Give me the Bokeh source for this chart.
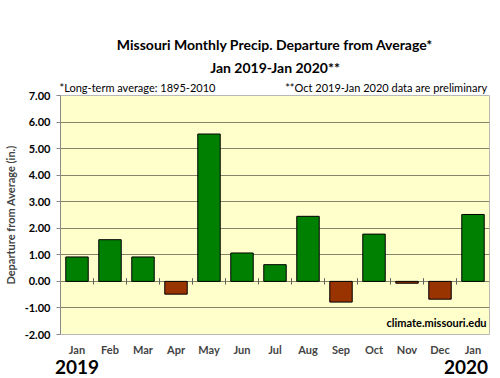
from bokeh.plotting import figure
from bokeh.models import (Range1d, FixedTicker, NumeralTickFormatter, ColumnDataSource,
                          LinearAxis, Title)
from bokeh.embed import file_html
from bokeh.resources import INLINE

months = ["Jan", "Feb", "Mar", "Apr", "May", "Jun", "Jul", "Aug", "Sep", "Oct", "Nov", "Dec", "Jan"]
values = [0.92, 1.57, 0.92, -0.48, 5.55, 1.07, 0.63, 2.45, -0.78, 1.78, -0.07, -0.67, 2.52]
y_ticks = [-2, -1, 0, 1, 2, 3, 4, 5, 6, 7]
years = ["2019", "2020"]
title1 = "Missouri Monthly Precip. Departure from Average*"
title2 = "Jan 2019-Jan 2020**"
note_left = "*Long-term average: 1895-2010"
note_right = "**Oct 2019-Jan 2020 data are preliminary"
source_text = "climate.missouri.edu"

FONT = "Lato"
W, H = 490, 378
FL, FR, FT, FB = 49, 489, 95, 334   # frame edges in figure pixels


def fx(px):
    """figure-pixel x -> data x"""
    return (px - FL) / (FR - FL) * 13


xs = [i + 0.5 for i in range(len(months))]
colors = ["#008000" if v >= 0 else "#993300" for v in values]
src = ColumnDataSource(dict(x=xs, top=values, color=colors))

p = figure(width=W, height=H, output_backend="svg", toolbar_location=None, title=None,
           x_range=Range1d(0, 13), y_range=Range1d(-2, 7),
           min_border_left=FL, min_border_right=W - FR, min_border_top=FT, min_border_bottom=H - FB)
p.background_fill_color = "#FFFFCC"
p.border_fill_color = "white"
p.outline_line_color = "#b8b8b8"

p.vbar(x="x", top="top", bottom=0, width=0.68, fill_color="color", line_color="black", line_width=1, source=src)

# crossing ticks on the zero line, between categories
bx = list(range(1, 13))
p.segment(x0=bx, x1=bx, y0=[-0.12] * len(bx), y1=[0.12] * len(bx), line_color="#606060", line_width=1)

# watermark inside plot
p.text(x=[fx(486)], y=[-2 + 12 / ((FB - FT) / 9)], text=[source_text], text_align="right",
       text_baseline="middle", text_font_size="11px", text_font_style="bold",
       text_font={"value": FONT}, text_color="black")

p.xgrid.visible = False
p.ygrid.ticker = FixedTicker(ticks=y_ticks)
p.ygrid.grid_line_color = "#85856a"
p.ygrid.grid_line_width = 1

p.yaxis.ticker = FixedTicker(ticks=y_ticks)
p.yaxis.formatter = NumeralTickFormatter(format="0.00")
p.yaxis.axis_line_color = "#8a8a8a"
p.yaxis.major_tick_line_color = "#8a8a8a"
p.yaxis.major_tick_out = 4
p.yaxis.major_tick_in = 0
p.yaxis.minor_tick_line_color = None
p.yaxis.major_label_text_font = FONT
p.yaxis.major_label_text_font_style = "bold"
p.yaxis.major_label_text_font_size = "11px"
p.yaxis.major_label_text_color = "black"
p.yaxis.major_label_standoff = 6
p.yaxis.axis_label = "Departure from Average (in.)"
p.yaxis.axis_label_text_font = FONT
p.yaxis.axis_label_text_font_style = "bold"
p.yaxis.axis_label_text_font_size = "11px"
p.yaxis.axis_label_standoff = 5

# month labels (main x axis)
p.xaxis.ticker = FixedTicker(ticks=xs)
p.xaxis.major_label_overrides = {x: m for x, m in zip(xs, months)}
p.xaxis.axis_line_color = None
p.xaxis.major_tick_line_color = None
p.xaxis.major_tick_out = 0
p.xaxis.minor_tick_line_color = None
p.xaxis.major_label_text_font = FONT
p.xaxis.major_label_text_font_style = "bold"
p.xaxis.major_label_text_font_size = "11px"
p.xaxis.major_label_standoff = 8

# year labels (second axis below)
year_pos = [fx(66), fx(465)]
yax = LinearAxis(ticker=FixedTicker(ticks=year_pos),
                 major_label_overrides={x: t for x, t in zip(year_pos, years)},
                 axis_line_color=None, major_tick_line_color=None, minor_tick_line_color=None,
                 major_tick_out=0, major_label_standoff=1,
                 major_label_text_font=FONT, major_label_text_font_style="bold",
                 major_label_text_font_size="19px", major_label_text_color="black")
p.add_layout(yax, "below")

# notes (axis above the frame)
note_pos = [fx(128), fx(383)]
nax = LinearAxis(ticker=FixedTicker(ticks=note_pos),
                 major_label_overrides={x: t for x, t in zip(note_pos, [note_left, note_right])},
                 axis_line_color=None, major_tick_line_color=None, minor_tick_line_color=None,
                 major_tick_out=0, major_label_standoff=2,
                 major_label_text_font=FONT, major_label_text_font_style="normal",
                 major_label_text_font_size="11px", major_label_text_color="black")
p.add_layout(nax, "above")

p.add_layout(Title(text=title2, align="center", standoff=4, text_font=FONT,
                   text_font_style="bold", text_font_size="14px", text_color="black"), "above")
p.add_layout(Title(text=title1, align="center", standoff=4, text_font=FONT,
                   text_font_style="bold", text_font_size="14px", text_color="black"), "above")

open("out.html", "w").write(file_html(p, INLINE))
